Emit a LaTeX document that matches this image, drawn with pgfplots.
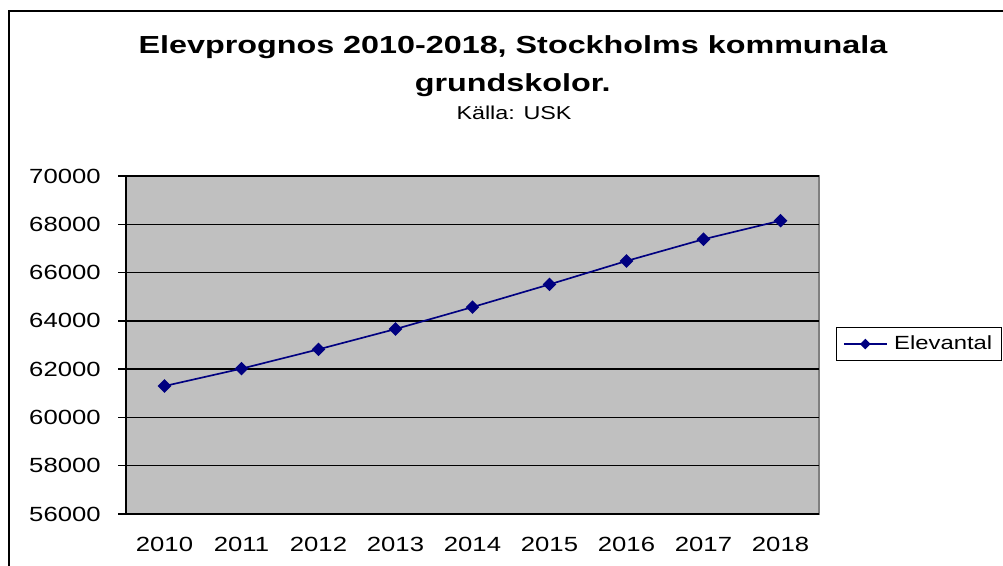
\documentclass[border=0pt]{standalone}
\usepackage{fontspec}
\setmainfont{Liberation Sans}[FakeStretch=1.25]
\newfontfamily\titlefont{Liberation Sans}[FakeStretch=1.31]
\usepackage{pgfplots}
\pgfplotsset{compat=1.18}
\definecolor{plotgray}{HTML}{C0C0C0}
\definecolor{bordergray}{HTML}{808080}
\definecolor{navyblue}{HTML}{000080}

\begin{document}
\begin{tikzpicture}
\begin{scope}
\clip (0pt,0pt) rectangle (752.25pt,-424.5pt);
\draw[line width=1.5pt] (6.75pt,-7.9pt) rectangle (800pt,-500pt);
\end{scope}
\node[anchor=base, inner sep=0pt, font=\titlefont\bfseries\fontsize{18.5}{22}\selectfont] at (384.75pt,-40.5pt) {Elevprognos 2010-2018, Stockholms kommunala};
\node[anchor=base, inner sep=0pt, font=\titlefont\bfseries\fontsize{18.5}{22}\selectfont] at (384.5pt,-68.8pt) {grundskolor.};
\node[anchor=base, inner sep=0pt, font=\fontsize{14}{17}\selectfont] at (385.5pt,-90pt) {Källa: USK};
\begin{axis}[
  at={(94.5pt,-385.5pt)}, anchor=south west,
  scale only axis, width=519.75pt, height=253.5pt,
  xmin=-0.5, xmax=8.5, ymin=56000, ymax=70000,
  ytick={56000,58000,...,70000},
  xtick={0,1,2,3,4,5,6,7,8},
  xticklabels={2010,2011,2012,2013,2014,2015,2016,2017,2018},
  minor xtick={-0.5,0.5,...,8.5},
  axis x line*=bottom, axis y line*=left,
  axis line style={black, line width=1.5pt, -},
  tick align=outside,
  major tick length=6pt, minor tick length=5pt,
  xtick style={draw=none},
  ytick style={black, line width=1pt},
  minor tick style={black, line width=1pt},
  ymajorgrids,
  major grid style={black, line width=1pt},
  axis background/.style={fill=plotgray, draw=bordergray, line width=1pt},
  scaled y ticks=false,
  yticklabel style={xshift=-9.5pt, /pgf/number format/.cd, fixed, 1000 sep={}},
  xticklabel style={yshift=-7.5pt},
  /pgf/number format/assume math mode=true,
  tick label style={font=\fontsize{15.4}{18}\selectfont},
  legend entries={Elevantal},
  legend style={at={(rel axis cs:1.0245,0.5533)}, anchor=north west, draw=black, line width=0.75pt, font=\fontsize{14.3}{17}\selectfont, cells={anchor=west}, inner xsep=5pt, inner ysep=4.5pt},
  legend image code/.code={\draw[mark repeat=2, mark phase=2, #1] plot coordinates {(0pt,0pt) (16pt,0pt) (32pt,0pt)}; \path (35pt,0pt);},
  legend image post style={mark size=2.2pt},
]
\addplot[navyblue, line width=1.25pt, mark=square*, mark size=3pt, mark options={rotate=45, fill=navyblue, draw=navyblue}] coordinates {
(0,61300) (1,62020) (2,62820) (3,63660) (4,64570) (5,65510) (6,66480) (7,67380) (8,68150)};
\end{axis}
\pgfresetboundingbox
\path[use as bounding box] (0pt,0pt) rectangle (752.25pt,-424.5pt);
\end{tikzpicture}
\end{document}
